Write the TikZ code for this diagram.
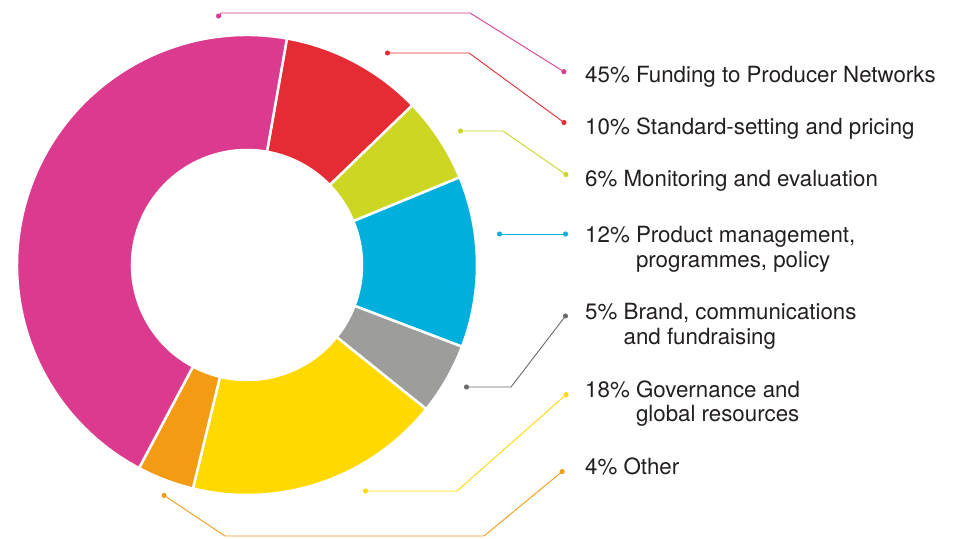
\documentclass[tikz,border=0pt]{standalone}
\usepackage{fontspec}
\setmainfont{TeX Gyre Heros}
\usetikzlibrary{arrows.meta}
\definecolor{cpink}{RGB}{219,58,142}
\definecolor{cred}{RGB}{229,43,52}
\definecolor{clime}{RGB}{205,214,34}
\definecolor{cblue}{RGB}{0,175,219}
\definecolor{cgrey}{RGB}{157,158,156}
\definecolor{cgreyline}{RGB}{105,106,108}
\definecolor{cyellow}{RGB}{255,217,0}
\definecolor{corange}{RGB}{243,155,18}
\definecolor{ctext}{RGB}{35,31,32}
\newcommand{\twolines}[2]{\begin{tabular}[t]{@{}l@{}}#1\\#2\end{tabular}}

\begin{document}
\begin{tikzpicture}[x=1pt, y=1pt,
        slice/.style={draw=white, line width=2.5pt, line join=round},
        lead/.style={line width=0.9pt, {Circle[length=5pt]}-{Circle[length=5pt]}},
        lbl/.style={anchor=base west, inner sep=0pt, text=ctext, font=\fontsize{22.3}{24.5}\selectfont}]
    \useasboundingbox (0,0) rectangle (957,538);
    \coordinate (O) at (247,273);

    % ring, clockwise from the top
    \begin{scope}[shift={(O)}]
        \fill[slice, fill=cred] (80:230) arc (80:44:230) -- (44:115) arc (44:80:115) -- cycle;
        \fill[slice, fill=clime] (44:230) arc (44:22.4:230) -- (22.4:115) arc (22.4:44:115) -- cycle;
        \fill[slice, fill=cblue] (22.4:230) arc (22.4:-20.8:230) -- (-20.8:115) arc (-20.8:22.4:115) -- cycle;
        \fill[slice, fill=cgrey] (-20.8:230) arc (-20.8:-38.8:230) -- (-38.8:115) arc (-38.8:-20.8:115) -- cycle;
        \fill[slice, fill=cyellow] (-38.8:230) arc (-38.8:-103.6:230) -- (-103.6:115) arc (-103.6:-38.8:115) -- cycle;
        \fill[slice, fill=corange] (-103.6:230) arc (-103.6:-118:230) -- (-118:115) arc (-118:-103.6:115) -- cycle;
        \fill[slice, fill=cpink] (80:230) arc (80:242:230) -- (242:115) arc (242:80:115) -- cycle;
    \end{scope}

    % labels
    \node[lbl] (Lpink) at (585,455) {45\% Funding to Producer Networks};
    \node[lbl] (Lred) at (585,403) {10\% Standard-setting and pricing};
    \node[lbl] (Llime) at (585,351) {6\% Monitoring and evaluation};
    \node[lbl] (Lblue) at (585,295) {\twolines{12\% Product management,}{\phantom{12\% }programmes, policy}};
    \node[lbl] (Lgrey) at (585,218) {\twolines{5\% Brand, communications}{\phantom{5\% }and fundraising}};
    \node[lbl] (Lyellow) at (585,141) {\twolines{18\% Governance and}{\phantom{18\% }global resources}};
    \node[lbl] (Lorange) at (585,64) {4\% Other};

    % leader lines
    \coordinate (p1) at (217,520);
    \coordinate (p2) at (221,525);
    \coordinate (p3) at (470,525);
    \coordinate (p4) at (566,465);
    \coordinate (r1) at (385,485);
    \coordinate (r2) at (469,485);
    \coordinate (r3) at (566,414);
    \coordinate (g1) at (458,407);
    \coordinate (g2) at (503,407);
    \coordinate (g3) at (568,362);
    \coordinate (b1) at (497,304);
    \coordinate (b2) at (568,304);
    \coordinate (k1) at (464,151);
    \coordinate (k2) at (511,151);
    \coordinate (k3) at (567,224);
    \coordinate (y1) at (363,47);
    \coordinate (y2) at (457,47);
    \coordinate (y3) at (568,145);
    \coordinate (o1) at (162,44);
    \coordinate (o2) at (225,2);
    \coordinate (o3) at (484,2);
    \coordinate (o4) at (564,68);

    \draw[lead, cpink] (p1)--(p2)--(p3)--(p4);
    \draw[lead, cred] (r1)--(r2)--(r3);
    \draw[lead, clime] (g1)--(g2)--(g3);
    \draw[lead, cblue] (b1)--(b2);
    \draw[lead, cgreyline] (k1)--(k2)--(k3);
    \draw[lead, cyellow] (y1)--(y2)--(y3);
    \draw[lead, corange] (o1)--(o2)--(o3)--(o4);
\end{tikzpicture}
\end{document}
